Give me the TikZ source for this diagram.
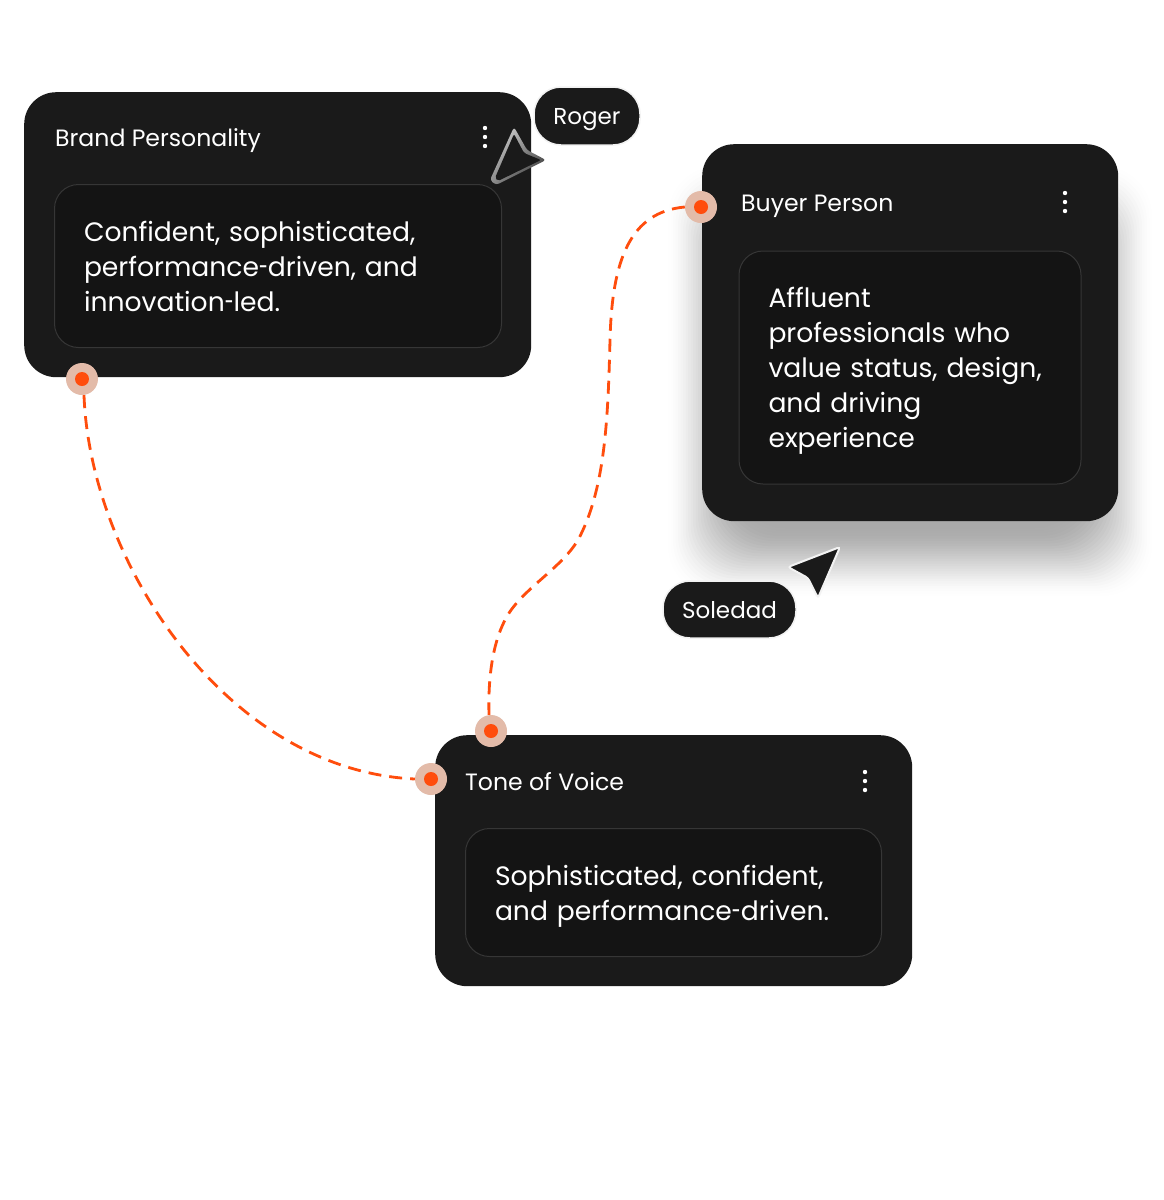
\documentclass[tikz,border=0pt]{standalone}
\usepackage{fontspec}
\setmainfont{Poppins}
\usetikzlibrary{shadings}

\definecolor{cardcol}{HTML}{1A1A1A}
\definecolor{panelcol}{HTML}{141414}
\definecolor{edgecol}{HTML}{363636}
\definecolor{wirecol}{HTML}{FF4D0D}
\definecolor{halocol}{HTML}{E3BBA9}

\newcommand{\shorthy}{\scalebox{0.6}[1]{-}}

\tikzset{
	card/.style={fill=cardcol, rounded corners=32pt, anchor=north west, inner sep=0pt},
	panel/.style={fill=panelcol, draw=edgecol, line width=1pt, rounded corners=24pt, anchor=north west, inner xsep=29.5pt, inner ysep=0pt, align=left, text=white, font=\fontsize{26.6}{35}\selectfont},
	cardtitle/.style={anchor=west, inner sep=0pt, text=white, text height=17pt, text depth=0pt, font=\fontsize{23.6}{30}\selectfont},
	pill/.style={fill=cardcol, draw=white!95!black, line width=1.5pt, rounded corners=27pt, inner sep=0pt, text=white, text height=17pt, text depth=0pt, font=\fontsize{23}{30}\selectfont},
	port/.style={circle, fill=halocol, minimum size=32pt, inner sep=0pt, path picture={\fill[wirecol] (path picture bounding box.center) circle (7pt);}},
	menudot/.style={circle, fill=white, minimum size=4.4pt, inner sep=0pt},
	wire/.style={draw=wirecol, line width=2.8pt, dash pattern=on 13pt off 8pt}
}

\begin{document}
\begin{tikzpicture}[x=1pt, y=-1pt]
	\useasboundingbox (0, 0) rectangle (1163, 1200);
	\fill[white] (0, 0) rectangle (1163, 1200);

	% soft shadow of the buyer card
	\foreach \s in {-36, -33.5, ..., 36} {
		\pgfmathsetmacro{\shadowop}{0.017*(1 - (\s/38)*(\s/38))}
		\fill[black, opacity=\shadowop, rounded corners=50pt] (702 - \s, 200 - \s) rectangle (1118 + \s, 562 + \s);
	}

	% cards
	\node[card, minimum width=507pt, minimum height=285pt] (brand) at (24, 92) {};
	\node[card, minimum width=416pt, minimum height=377pt] (buyer) at (702, 144) {};
	\node[card, minimum width=477pt, minimum height=251pt] (tone) at (435, 735) {};

	\node[cardtitle] (brandtitle) at (55, 138) {Brand Personality};
	\node[cardtitle] (buyertitle) at (741, 203) {Buyer Person};
	\node[cardtitle] (tonetitle) at (465, 782) {Tone of Voice};

	\node[panel, minimum width=447pt, minimum height=163pt, text width=388pt] (brandpanel) at (54, 184) {Confident, sophisticated,\\performance\shorthy driven, and\\innovation\shorthy led.};
	\node[panel, minimum width=342pt, minimum height=233pt, text width=283pt] (buyerpanel) at (738.5, 250.5) {Affluent\\professionals who\\value status, design,\\and driving\\\smash{experience}};
	\node[panel, minimum width=416pt, minimum height=128pt, text width=357pt] (tonepanel) at (465, 828) {Sophisticated, confident,\\\smash{and performance\shorthy driven.}};

	% menu dots
	\foreach \mx/\my/\mname in {485/128/brand, 1065/193/buyer, 865/772/tone} {
		\foreach \k in {0, 1, 2} {
			\node[menudot] (\mname dot\k) at (\mx, \my + 9*\k) {};
		}
	}

	% ports
	\node[port] (brandport) at (82, 379) {};
	\node[port] (buyerport) at (701, 207) {};
	\node[port] (tonetop) at (491, 731) {};
	\node[port] (toneleft) at (431, 779) {};

	% connectors
	\draw[wire] ([xshift=2pt]brandport.south) .. controls (90, 560) and (225, 770) .. (toneleft.west);
	\draw[wire] (buyerport.west) .. controls (630, 212) and (612, 260) .. (610, 340)
		.. controls (608, 420) and (605, 490) .. (578, 540)
		.. controls (560, 570) and (520, 590) .. (505, 620)
		.. controls (492, 645) and (488, 680) .. ([xshift=-2pt]tonetop.north);

	% cursors
	\shade[shading=bilinear interpolation, rounded corners=3pt, lower left=black!45, upper left=white!90!black, upper right=white!55!black, lower right=cardcol] (514, 127) -- (527, 150) -- (546, 160) -- (496, 185) -- (490, 180) -- cycle;
	\fill[cardcol, rounded corners=2pt] (514, 134) -- (524, 153) -- (541, 160) -- (498, 181) -- (495, 178) -- cycle;
	\filldraw[cardcol, draw=white!95!black, line width=2pt, rounded corners=3pt] (840, 547) -- (788, 567) -- (808, 578) -- (818, 598) -- cycle;

	% name tags
	\node[pill, minimum width=106pt, minimum height=58pt] (roger) at (587, 116) {Roger};
	\node[pill, minimum width=133pt, minimum height=57pt] (soledad) at (729.5, 609.5) {Soledad};
\end{tikzpicture}
\end{document}
